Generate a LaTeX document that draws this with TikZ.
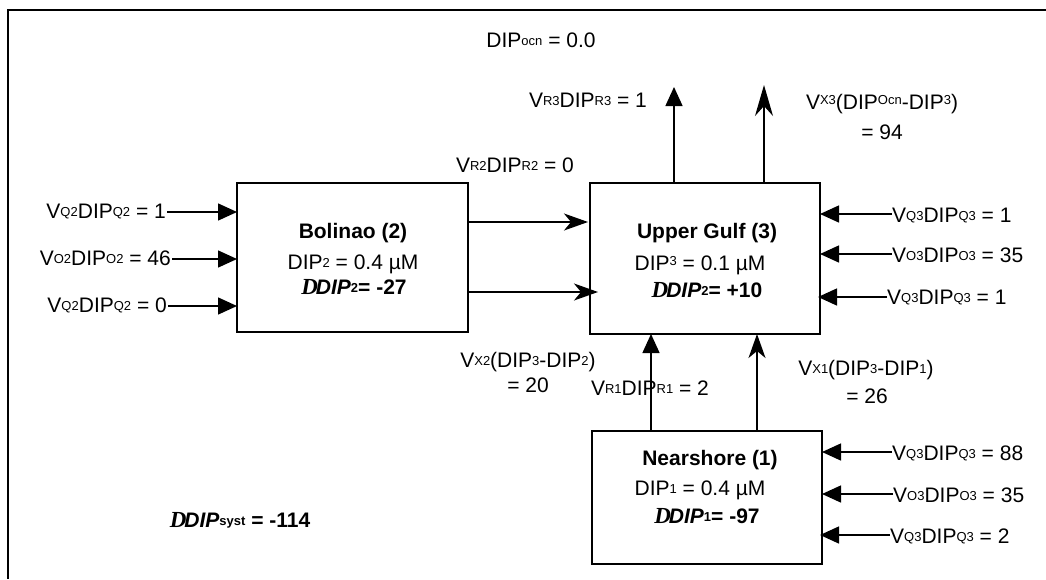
\documentclass[tikz,border=0pt]{standalone}
\usepackage{fontspec}
\setmainfont{Liberation Sans}
\newfontfamily\serifD{Liberation Serif}
\usetikzlibrary{arrows.meta}
\newcommand{\lowtxt}[1]{\raisebox{2pt}{\fontsize{13}{13}\selectfont #1}}
\newcommand{\uptxt}[1]{\raisebox{5pt}{\fontsize{13}{13}\selectfont #1}}
\newcommand{\DD}{{\serifD\fontsize{23}{25}\selectfont\bfseries\itshape D}\kern-2pt}
\begin{document}
\begin{tikzpicture}[x=1pt,y=-1pt,
  lbl/.style={inner sep=0pt, font=\fontsize{21}{25}\selectfont},
  box/.style={draw, line width=1.8pt, inner sep=0pt, outer sep=0pt},
  ln/.style={line width=1.5pt},
  tri/.style={ln, -{Triangle[length=19pt,width=17pt]}},
  stl/.style={ln, -{Stealth[length=24pt,width=17pt,inset=7pt]}},
  stllong/.style={ln, -{Stealth[length=31pt,width=18pt,inset=10pt]}}]
\useasboundingbox (0,0) rectangle (1046,579);
\draw[line width=1.5pt] (1046,10) -- (8,10) -- (8,579);

% boxes
\node[box, minimum width=231pt, minimum height=149pt] (bol) at (352.5,257.5) {};
\node[box, minimum width=230pt, minimum height=151pt] (ug) at (705,258.5) {};
\node[box, minimum width=230pt, minimum height=133pt] (ns) at (707,497.5) {};

% box texts
\node[lbl, anchor=base] (bolt) at (353,238) {\bfseries Bolinao (2)};
\node[lbl, anchor=base] (bold) at (353,269) {DIP\lowtxt{2} = 0.4 µM};
\node[lbl, anchor=base] (boldd) at (354,294) {\DD{\bfseries\itshape DIP}\lowtxt{\bfseries 2}{\bfseries= -27}};

\node[lbl, anchor=base] (ugt) at (707,238) {\bfseries Upper Gulf (3)};
\node[lbl, anchor=base] (ugd) at (700,270) {DIP\uptxt{3} = 0.1 µM};
\node[lbl, anchor=base] (ugdd) at (707,297) {\DD{\bfseries\itshape DIP}\lowtxt{\bfseries 2}{\bfseries= +10}};

\node[lbl, anchor=base] (nst) at (710,465) {\bfseries Nearshore (1)};
\node[lbl, anchor=base] (nsd) at (700,495) {DIP\lowtxt{1} = 0.4 µM};
\node[lbl, anchor=base] (nsdd) at (707,523) {\DD{\bfseries\itshape DIP}\lowtxt{\bfseries 1}{\bfseries= -97}};

\node[lbl, anchor=base] (syst) at (240,527) {\DD{\bfseries\itshape DIP}\lowtxt{\bfseries syst} {\bfseries = -114}};

% top labels
\node[lbl, anchor=base] (ocn) at (541,47) {DIP\lowtxt{ocn} = 0.0};
\node[lbl, anchor=base] (r3) at (588,107) {V\lowtxt{R3}DIP\lowtxt{R3} = 1};
\node[lbl, anchor=base] (r2) at (515,172) {V\lowtxt{R2}DIP\lowtxt{R2} = 0};
\node[lbl, anchor=base] (x3) at (882,109) {V\uptxt{X3}(DIP\uptxt{Ocn}-DIP\uptxt{3})};
\node[lbl, anchor=base] (x3v) at (882,139) {= 94};

% middle labels
\node[lbl, anchor=base] (x2) at (528,367) {V\lowtxt{X2}(DIP\lowtxt{3}-DIP\lowtxt{2})};
\node[lbl, anchor=base] (x2v) at (528,392) {= 20};
\node[lbl, anchor=base] (r1) at (650,395) {V\lowtxt{R1}DIP\lowtxt{R1} = 2};
\node[lbl, anchor=base] (x1) at (866,375) {V\lowtxt{X1}(DIP\lowtxt{3}-DIP\lowtxt{1})};
\node[lbl, anchor=base] (x1v) at (867,403) {= 26};

% left inputs to Bolinao
\node[lbl, anchor=base east] (lq1) at (166,218) {V\lowtxt{Q2}DIP\lowtxt{Q2} = 1};
\node[lbl, anchor=base east] (lo2) at (171,265) {V\lowtxt{O2}DIP\lowtxt{O2} = 46};
\node[lbl, anchor=base east] (lq3) at (167,312) {V\lowtxt{Q2}DIP\lowtxt{Q2} = 0};
\coordinate (a1) at (167,212);
\coordinate (a2) at (172,259);
\coordinate (a3) at (168,306);
\draw[tri] (a1) -- (a1 -| bol.west);
\draw[tri] (a2) -- (a2 -| bol.west);
\draw[tri] (a3) -- (a3 -| bol.west);

% right inputs to Upper Gulf
\node[lbl, anchor=base west] (uq1) at (892,222) {V\lowtxt{Q3}DIP\lowtxt{Q3} = 1};
\node[lbl, anchor=base west] (uo2) at (892,262) {V\lowtxt{O3}DIP\lowtxt{O3} = 35};
\node[lbl, anchor=base west] (uq3) at (887,304) {V\lowtxt{Q3}DIP\lowtxt{Q3} = 1};
\coordinate (b1) at (892,214);
\coordinate (b2) at (892,254);
\coordinate (b3) at (887,297);
\draw[tri] (b1) -- (b1 -| ug.east);
\draw[tri] (b2) -- (b2 -| ug.east);
\draw[tri] (b3) -- ([xshift=-2pt]b3 -| ug.east);

% right inputs to Nearshore
\node[lbl, anchor=base west] (nq1) at (892,460) {V\lowtxt{Q3}DIP\lowtxt{Q3} = 88};
\node[lbl, anchor=base west] (no2) at (893,502) {V\lowtxt{O3}DIP\lowtxt{O3} = 35};
\node[lbl, anchor=base west] (nq3) at (890,543) {V\lowtxt{Q3}DIP\lowtxt{Q3} = 2};
\coordinate (c1) at (892,452);
\coordinate (c2) at (893,494);
\coordinate (c3) at (890,535);
\draw[tri] (c1) -- (c1 -| ns.east);
\draw[tri] (c2) -- (c2 -| ns.east);
\draw[tri] (c3) -- ([xshift=-2pt]c3 -| ns.east);

% Bolinao -> Upper Gulf
\coordinate (m1) at (0,222);
\coordinate (m2) at (0,292);
\draw[stl] (bol.east |- m1) -- ([xshift=-2pt]ug.west |- m1);
\draw[stl] (bol.east |- m2) -- ([xshift=8pt]ug.west |- m2);

% Upper Gulf -> ocean
\coordinate (t1) at (674,87);
\coordinate (t2) at (764,85);
\draw[tri] (ug.north -| t1) -- (t1);
\draw[stllong] (ug.north -| t2) -- (t2);

% Nearshore -> Upper Gulf
\coordinate (u1) at (651,0);
\coordinate (u2) at (757,0);
\draw[tri] (ns.north -| u1) -- (ug.south -| u1);
\draw[stl] (ns.north -| u2) -- (ug.south -| u2);
\end{tikzpicture}
\end{document}
